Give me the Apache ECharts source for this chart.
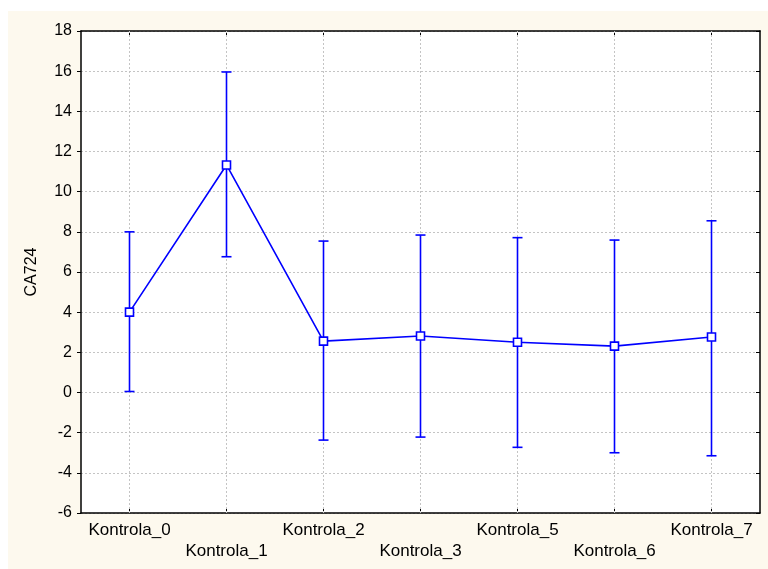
<!DOCTYPE html>
<html>
<head>
<meta charset="utf-8">
<script src="https://cdn.jsdelivr.net/npm/echarts@6/dist/echarts.min.js"></script>
<style>
html,body{margin:0;padding:0;background:#ffffff;}
#chart{width:768px;height:569px;}
</style>
</head>
<body>
<div id="chart"></div>
<script>
const categories = ['Kontrola_0','Kontrola_1','Kontrola_2','Kontrola_3','Kontrola_5','Kontrola_6','Kontrola_7'];
const means = [4.0, 11.33, 2.56, 2.81, 2.5, 2.31, 2.76];
const upper = [8.0, 15.96, 7.54, 7.84, 7.71, 7.59, 8.55];
const lower = [0.05, 6.76, -2.37, -2.22, -2.73, -3.0, -3.15];
const yMin = -6, yMax = 18, yStep = 2;
const yName = 'CA724';

const FONT = 'Liberation Sans, Arial, sans-serif';
const BLUE = '#0000ff';
const GRIDC = '#c4c4c4';

const chart = echarts.init(document.getElementById('chart'), null, {renderer:'canvas'});
const errData = categories.map((c,i)=>[i, lower[i], upper[i]]);

chart.setOption({
  animation:false,
  graphic:[{type:'rect', z:-100, silent:true, shape:{x:8,y:11,width:760,height:558}, style:{fill:'#fdf9ee'}}],
  grid:{left:81, top:31, right:8, bottom:56, show:true, backgroundColor:'#ffffff', borderWidth:0},
  xAxis:[{
    type:'category', data:categories, position:'bottom', boundaryGap:true,
    axisLine:{show:true, onZero:false, lineStyle:{color:'#000', width:1.5}},
    axisTick:{show:true, inside:true, alignWithLabel:true, length:4, lineStyle:{color:'#000'}},
    axisLabel:{interval:0, margin:7, color:'#000', fontFamily:FONT, fontSize:17, lineHeight:21,
      formatter:(v,i)=> (i%2===1 ? '\n'+v : v)},
    splitLine:{show:false}
  },{
    type:'category', data:categories, position:'top', boundaryGap:true,
    axisLine:{show:true, onZero:false, lineStyle:{color:'#000', width:1.5}},
    axisTick:{show:true, inside:true, alignWithLabel:true, length:4, lineStyle:{color:'#000'}},
    axisLabel:{show:false}, splitLine:{show:false}
  }],
  yAxis:[{
    type:'value', min:yMin, max:yMax, interval:yStep, position:'left',
    name:yName, nameLocation:'middle', nameGap:41, nameRotate:90,
    nameTextStyle:{color:'#000', fontFamily:FONT, fontSize:16},
    axisLine:{show:true, onZero:false, lineStyle:{color:'#000', width:1.5}},
    axisTick:{show:true, inside:false, length:4, lineStyle:{color:'#000'}},
    axisLabel:{margin:9, color:'#000', fontFamily:FONT, fontSize:16},
    splitLine:{show:true, lineStyle:{color:GRIDC, type:[2,2], width:1}}
  },{
    type:'value', min:yMin, max:yMax, interval:yStep, position:'right',
    axisLine:{show:true, onZero:false, lineStyle:{color:'#000', width:1.5}},
    axisTick:{show:true, inside:true, length:4, lineStyle:{color:'#000'}},
    axisLabel:{show:false}, splitLine:{show:false}
  }],
  series:[{
    type:'custom', xAxisIndex:0, yAxisIndex:0, z:2,
    data:errData, encode:{x:0, y:[1,2]},
    renderItem:function(params, api){
      const x = api.value(0);
      const pLo = api.coord([x, api.value(1)]);
      const pHi = api.coord([x, api.value(2)]);
      const hw = 5;
      const st = {stroke:BLUE, lineWidth:1.6, fill:null};
      return {type:'group', children:[
        {type:'line', shape:{x1:pLo[0], y1:pLo[1], x2:pHi[0], y2:pHi[1]}, style:st},
        {type:'line', shape:{x1:pHi[0]-hw, y1:pHi[1], x2:pHi[0]+hw, y2:pHi[1]}, style:st},
        {type:'line', shape:{x1:pLo[0]-hw, y1:pLo[1], x2:pLo[0]+hw, y2:pLo[1]}, style:st}
      ]};
    },
    markLine:{silent:true, symbol:'none', label:{show:false}, z:1,
      lineStyle:{color:GRIDC, type:[2,2], width:1},
      data:categories.map(c=>({xAxis:c}))}
  },{
    type:'line', xAxisIndex:0, yAxisIndex:0, z:3,
    data:means, symbol:'rect', symbolSize:8,
    lineStyle:{color:BLUE, width:1.6},
    itemStyle:{color:'#ffffff', borderColor:BLUE, borderWidth:1.6}
  }]
});
</script>
</body>
</html>
